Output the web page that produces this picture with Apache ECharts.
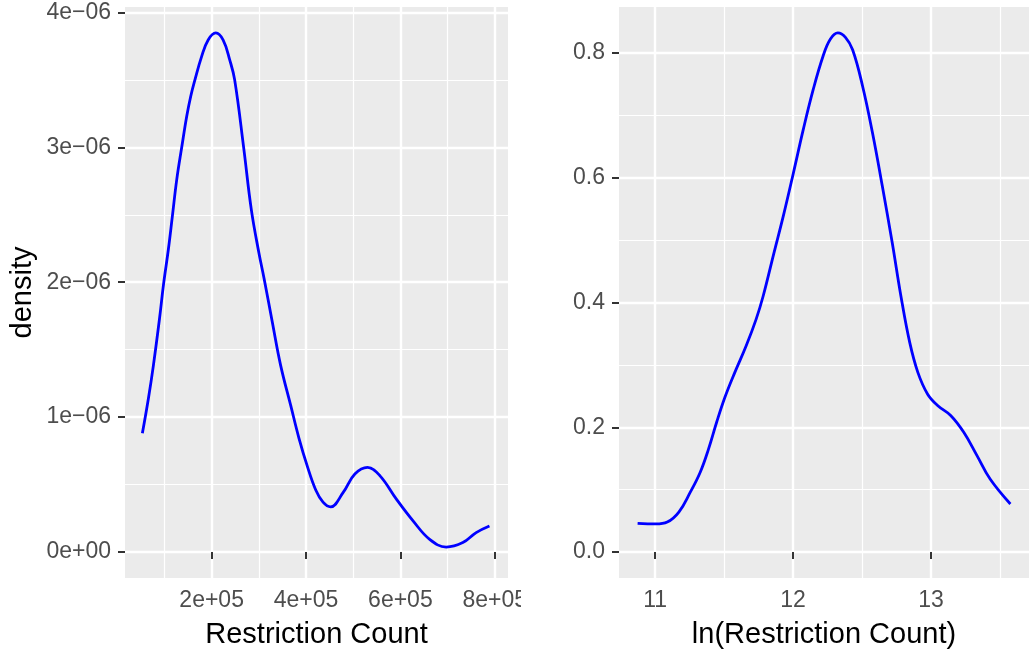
<!DOCTYPE html>
<html><head><meta charset="utf-8">
<script src="https://cdn.jsdelivr.net/npm/echarts@6/dist/echarts.min.js"></script>
<style>html,body{margin:0;padding:0;background:#fff}#c{width:1029px;height:654px}</style>
</head><body><div id="c"></div>
<script>
// Left panel: density of Restriction Count
const rawCount = [53200, 66000, 76600, 89500, 97900, 108400, 116800, 126100, 136600, 147200, 155600, 164600, 178700, 192600, 208800, 224200, 238300, 248800, 267800, 284000, 300000, 311000, 328500, 346200, 367400, 385100, 403000, 420600, 436000, 452100, 478800, 503500, 530300, 556800, 591500, 626800, 662000, 697200, 732300, 760500, 788700];
const rawDensity = [0.88e-6, 1.138e-6, 1.384e-6, 1.729e-6, 1.98e-6, 2.246e-6, 2.49e-6, 2.762e-6, 3.0e-6, 3.23e-6, 3.377e-6, 3.5e-6, 3.672e-6, 3.796e-6, 3.848e-6, 3.796e-6, 3.648e-6, 3.5e-6, 3.0e-6, 2.54e-6, 2.22e-6, 2.03e-6, 1.705e-6, 1.384e-6, 1.089e-6, 0.843e-6, 0.633e-6, 0.46e-6, 0.37e-6, 0.335e-6, 0.442e-6, 0.578e-6, 0.627e-6, 0.565e-6, 0.392e-6, 0.231e-6, 0.094e-6, 0.037e-6, 0.07e-6, 0.144e-6, 0.193e-6];
// Right panel: density of ln(Restriction Count)
const lnCount = [10.873, 11.005, 11.088, 11.172, 11.255, 11.327, 11.387, 11.446, 11.506, 11.578, 11.661, 11.732, 11.783, 11.86, 11.931, 12.003, 12.074, 12.146, 12.218, 12.27, 12.325, 12.38, 12.432, 12.504, 12.576, 12.647, 12.719, 12.784, 12.846, 12.905, 12.976, 13.048, 13.143, 13.238, 13.333, 13.429, 13.576];
const lnDensity = [0.046, 0.045, 0.048, 0.064, 0.096, 0.128, 0.165, 0.208, 0.248, 0.288, 0.331, 0.373, 0.41, 0.478, 0.54, 0.608, 0.677, 0.741, 0.795, 0.822, 0.832, 0.825, 0.805, 0.747, 0.672, 0.587, 0.496, 0.408, 0.336, 0.288, 0.253, 0.235, 0.219, 0.192, 0.155, 0.117, 0.077];
// Tick values
const rawXTicks = [200000, 400000, 600000, 800000];
const rawYTicks = [0, 1e-6, 2e-6, 3e-6, 4e-6];
const lnXTicks = [11, 12, 13];
const lnYTicks = [0, 0.2, 0.4, 0.6, 0.8];
const leftXTitle = 'Restriction Count';
const rightXTitle = 'ln(Restriction Count)';
const yTitle = 'density';

function sci(v) {
  if (Math.abs(v) < 1e-15) return '0e+00';
  const e = Math.floor(Math.log10(Math.abs(v)) + 1e-9);
  const m = Math.round(v / Math.pow(10, e));
  const sign = e < 0 ? '\u2212' : '+';
  const ae = Math.abs(e);
  return m + 'e' + sign + (ae < 10 ? '0' + ae : '' + ae);
}

const FONT = 'Liberation Sans, Arial, sans-serif';
const labelStyle = { color: '#4D4D4D', fontSize: 23, fontFamily: FONT };
const nameStyle = { color: '#000000', fontSize: 29, fontFamily: FONT };

function mkAxis(o) {
  return Object.assign({
    type: 'value',
    axisLine: { show: false },
    axisTick: { show: true, length: 7, lineStyle: { color: '#333333', width: 2 }, customValues: o.ticks },
    axisLabel: Object.assign({ customValues: o.ticks, formatter: o.fmt, margin: o.margin }, labelStyle),
    splitLine: { show: true, lineStyle: { color: '#FFFFFF', width: 2.4 } },
    minorTick: { show: false, splitNumber: 2 },
    minorSplitLine: { show: true, lineStyle: { color: '#FFFFFF', width: 1.2 } },
    nameTextStyle: nameStyle,
    nameLocation: 'middle'
  }, o.extra);
}

const chart = echarts.init(document.getElementById('c'), null, { renderer: 'canvas' });
chart.setOption({
  animation: false,
  backgroundColor: '#FFFFFF',
  grid: [
    { left: 125, top: 7, width: 383, bottom: 76, show: true, backgroundColor: '#EBEBEB', borderWidth: 0, containLabel: false },
    { left: 619, top: 7, width: 416, bottom: 76, show: true, backgroundColor: '#EBEBEB', borderWidth: 0, containLabel: false }
  ],
  xAxis: [
    mkAxis({ ticks: rawXTicks, fmt: sci, margin: 11, extra: { gridIndex: 0, min: 16400, max: 828000, minInterval: 200000, maxInterval: 200000, name: leftXTitle, nameGap: 42 } }),
    mkAxis({ ticks: lnXTicks, fmt: v => String(v), margin: 11, extra: { gridIndex: 1, min: 10.738, max: 13.711, minInterval: 1, maxInterval: 1, name: rightXTitle, nameGap: 42 } })
  ],
  yAxis: [
    mkAxis({ ticks: rawYTicks, fmt: sci, margin: 14, extra: { gridIndex: 0, min: -0.1924e-6, max: 4.04e-6, minInterval: 1e-6, maxInterval: 1e-6, name: yTitle, nameGap: 88, nameRotate: 90 } }),
    mkAxis({ ticks: lnYTicks, fmt: v => v.toFixed(1), margin: 14, extra: { gridIndex: 1, min: -0.0416, max: 0.8736, minInterval: 0.2, maxInterval: 0.2 } })
  ],
  series: [
    { type: 'line', xAxisIndex: 0, yAxisIndex: 0, data: rawCount.map((x, i) => [x, rawDensity[i]]), showSymbol: false, smooth: 0.4, lineStyle: { color: '#0000FF', width: 2.8 }, silent: true },
    { type: 'line', xAxisIndex: 1, yAxisIndex: 1, data: lnCount.map((x, i) => [x, lnDensity[i]]), showSymbol: false, smooth: 0.4, lineStyle: { color: '#0000FF', width: 2.8 }, silent: true }
  ],
  graphic: [
    { type: 'rect', left: 521, top: 586, shape: { width: 40, height: 30 }, style: { fill: '#FFFFFF' }, z: 100, silent: true }
  ]
});
</script>
</body></html>
